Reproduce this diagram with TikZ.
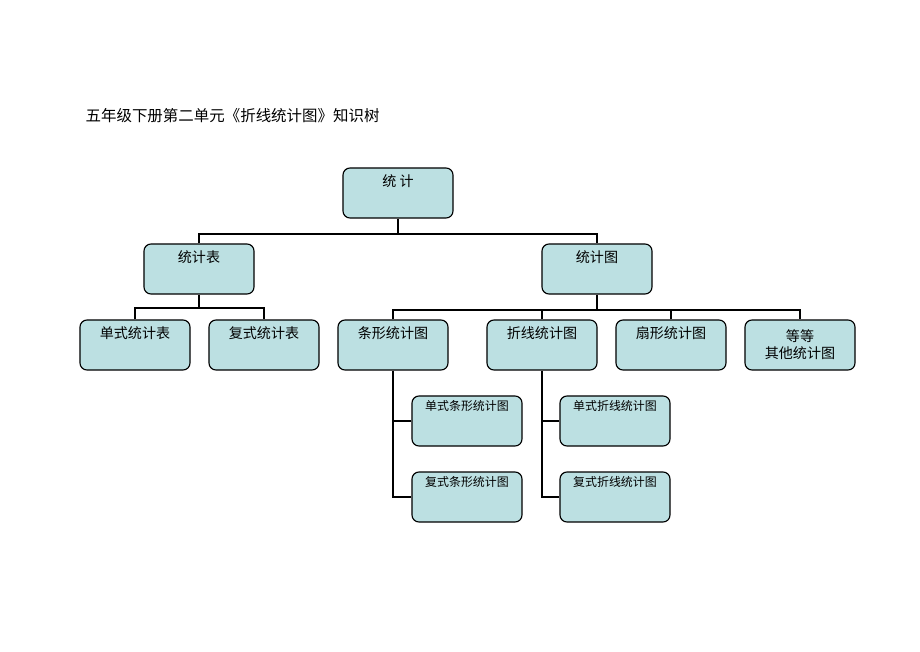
\documentclass[tikz,border=0pt]{standalone}
\usepackage{fontspec}
\setmainfont{Noto Sans CJK SC}
\usetikzlibrary{positioning,calc}
\definecolor{boxfill}{HTML}{BCE0E2}

\begin{document}
\begin{tikzpicture}
[x=0.025cm,y=-0.025cm,line width=1.3pt,
box/.style={draw,line width=0.8pt,rounded corners=5pt,fill=boxfill,
minimum width=2.75cm,minimum height=1.25cm,inner sep=0pt,
font=\fontsize{10}{12}\selectfont,text height=0.3cm,text depth=0.65cm},
subbox/.style={box,font=\fontsize{8.5}{10}\selectfont,text height=0.2cm,text depth=0.75cm},
twobox/.style={box,text height=,text depth=,align=center}]
\useasboundingbox (0,0) rectangle (920,651);
\node (title) at (80,116) [anchor=west,font=\fontsize{11}{13}\selectfont] {五年级下册第二单元《折线统计图》知识树};

\node (root) at (398,193) [box] {统\ 计};
\node (tb) at (199,269) [box] {统计表};
\node (tt) at (597,269) [box] {统计图};

\node (dsb) at (135,345) [box] {单式统计表};
\node (fsb) at (264,345) [box] {复式统计表};
\node (txt) at (393,345) [box] {条形统计图};
\node (zxt) at (542,345) [box] {折线统计图};
\node (sxt) at (671,345) [box] {扇形统计图};
\node (qt) at (800,345) [twobox] {等等\\其他统计图};

\node (dtx) at (467,421) [subbox] {单式条形统计图};
\node (ftx) at (467,497) [subbox] {复式条形统计图};
\node (dzx) at (615,421) [subbox] {单式折线统计图};
\node (fzx) at (615,497) [subbox] {复式折线统计图};

\coordinate (j1) at (398,234);
\coordinate (j2) at (199,308);
\coordinate (j3) at (597,310);

\draw (root) -- (j1);
\draw (tb.north) |- (j1) -| (tt.north);
\draw (tb) -- (j2);
\draw (dsb.north) |- (j2) -| (fsb.north);
\draw (tt) -- (j3);
\draw (txt.north) |- (j3) -| (qt.north);
\draw (zxt.north) -- (zxt.north |- j3);
\draw (sxt.north) -- (sxt.north |- j3);

\draw (txt.south) |- (ftx.west);
\draw (dtx.west) -- (dtx.west -| txt.south);
\draw (zxt.south) |- (fzx.west);
\draw (dzx.west) -- (dzx.west -| zxt.south);
\end{tikzpicture}
\end{document}
